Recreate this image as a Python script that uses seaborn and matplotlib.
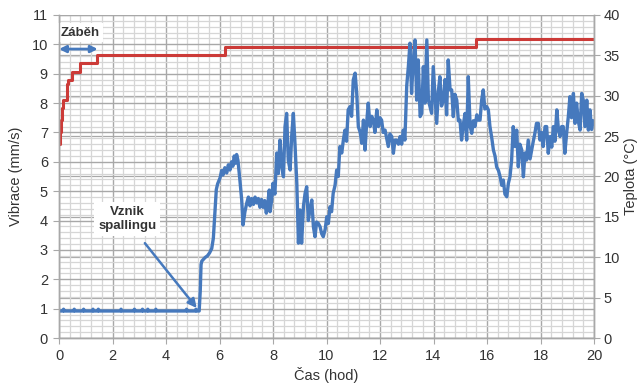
import numpy as np
import pandas as pd
import matplotlib
matplotlib.use("Agg")
import matplotlib.pyplot as plt
import matplotlib.transforms as mtransforms
from matplotlib.ticker import MultipleLocator
import seaborn as sns

# ---------------- data ----------------
vib_t = [0.00, 0.15, 0.17, 0.19, 0.55, 0.57, 0.59, 0.90, 0.92, 0.94, 1.25, 1.27, 1.29,
         1.45, 1.47, 1.49, 2.30, 2.32, 2.34, 2.80, 2.82, 2.84, 3.10, 3.12, 3.14, 3.30, 3.32,
         3.34, 3.60, 3.62, 3.64, 4.75, 4.77, 4.79, 5.10, 5.12, 5.14, 5.24,
         5.28, 5.31, 5.34, 5.40, 5.46, 5.55, 5.63, 5.71, 5.77, 5.83, 5.88, 5.93,
         6.02, 6.08, 6.13, 6.20, 6.27, 6.33, 6.39, 6.45, 6.50, 6.55, 6.60, 6.64, 6.69,
         6.76, 6.83, 6.88, 6.95, 7.02, 7.08, 7.14, 7.20, 7.27, 7.33, 7.39, 7.45, 7.51,
         7.57, 7.63, 7.69, 7.75, 7.81, 7.86, 7.89, 7.95, 8.00, 8.07, 8.14, 8.20, 8.26,
         8.33, 8.39, 8.45, 8.51, 8.57, 8.64, 8.70, 8.76, 8.82, 8.89, 8.95, 9.01, 9.07,
         9.14, 9.20, 9.26, 9.32, 9.38, 9.45, 9.51, 9.57, 9.63, 9.69, 9.76, 9.82, 9.88,
         9.95, 10.01, 10.07, 10.13, 10.19, 10.25, 10.32, 10.38, 10.44, 10.50,
         10.57, 10.63, 10.69, 10.75, 10.81, 10.88, 10.94, 11.00, 11.07, 11.13,
         11.19, 11.26, 11.32, 11.38, 11.44, 11.50, 11.56, 11.63, 11.69, 11.75,
         11.81, 11.88, 11.94, 12.00, 12.06, 12.12, 12.19, 12.25, 12.31, 12.37,
         12.44, 12.50, 12.56, 12.62, 12.69, 12.75, 12.81, 12.87, 12.93, 13.00,
         13.06, 13.12, 13.18, 13.24, 13.31, 13.37, 13.43, 13.50, 13.56, 13.62,
         13.68, 13.75, 13.81, 13.87, 13.93, 13.99, 14.06, 14.12, 14.18, 14.24,
         14.30, 14.37, 14.43, 14.49, 14.55, 14.62, 14.68, 14.74, 14.80, 14.87,
         14.93, 14.99, 15.05, 15.12, 15.18, 15.24, 15.30, 15.37, 15.43, 15.49,
         15.55, 15.62, 15.68, 15.74, 15.80, 15.86, 15.92, 15.99, 16.05, 16.11,
         16.18, 16.24, 16.30, 16.36, 16.43, 16.49, 16.55, 16.61, 16.67, 16.74,
         16.80, 16.86, 16.92, 16.98, 17.05, 17.11, 17.17, 17.23, 17.30, 17.36,
         17.42, 17.48, 17.54, 17.61, 17.67, 17.73, 17.79, 17.85, 17.92, 17.98,
         18.04, 18.10, 18.17, 18.23, 18.29, 18.36, 18.42, 18.48, 18.54, 18.61,
         18.67, 18.73, 18.79, 18.85, 18.91, 18.98, 19.04, 19.10, 19.16, 19.23,
         19.29, 19.35, 19.41, 19.48, 19.54, 19.60, 19.66, 19.73, 19.79, 19.85,
         19.91, 19.97, 20.00]
vib_v = [0.92, 0.92, 0.98, 0.92, 0.92, 0.98, 0.92, 0.92, 0.98, 0.92, 0.92, 0.98, 0.92,
         0.92, 0.98, 0.92, 0.92, 0.98, 0.92, 0.92, 0.98, 0.92, 0.92, 0.98, 0.92, 0.92, 0.98,
         0.92, 0.92, 0.98, 0.92, 0.92, 0.98, 0.92, 0.92, 0.98, 0.92, 0.92,
         1.60, 2.50, 2.62, 2.68, 2.74, 2.80, 2.90, 3.05, 3.40, 4.30, 5.05, 5.25,
         5.45, 5.70, 5.55, 5.80, 5.62, 5.90, 5.72, 6.00, 5.85, 6.20, 5.95, 6.25, 6.05,
         5.40, 4.70, 3.85, 4.30, 4.60, 4.80, 4.50, 4.75, 4.55, 4.80, 4.60, 4.75, 4.45,
         4.72, 4.45, 4.68, 4.25, 4.62, 5.04, 4.30, 4.70, 5.27, 4.90, 6.30, 5.60, 6.74,
         5.83, 5.49, 7.20, 7.65, 6.06, 5.72, 6.90, 7.65, 6.64, 5.27, 3.23, 4.36, 3.23,
         4.50, 4.93, 5.15, 4.00, 4.36, 4.70, 3.79, 3.45, 3.95, 3.91, 3.79, 3.55, 3.45,
         3.70, 4.13, 3.90, 4.47, 4.30, 4.93, 5.20, 5.72, 5.50, 6.52,
         6.30, 6.74, 7.08, 6.70, 7.77, 7.88, 7.55, 8.79, 9.02, 8.33,
         7.20, 7.00, 6.63, 7.42, 6.40, 7.30, 8.00, 7.20, 7.55, 7.42,
         7.00, 7.77, 7.20, 7.50, 7.42, 7.00, 7.08, 6.80, 6.52, 6.95,
         6.86, 6.29, 6.74, 6.74, 6.60, 6.86, 6.60, 7.08, 6.74, 8.60,
         9.24, 10.04, 8.33, 9.40, 10.15, 8.10, 9.47, 7.54, 7.65, 9.24,
         8.00, 10.15, 8.10, 7.88, 7.65, 9.24, 8.20, 7.31, 8.40, 8.90,
         7.90, 8.10, 8.80, 7.60, 9.47, 8.45, 8.45, 7.54, 8.30, 8.10,
         7.40, 7.42, 6.74, 7.30, 7.65, 6.74, 8.90, 7.20, 6.97, 7.40,
         7.20, 7.60, 7.42, 7.42, 8.10, 8.45, 7.80, 7.88, 7.77, 7.20,
         6.80, 6.40, 6.20, 5.83, 5.70, 5.49, 5.20, 5.38, 4.90, 4.81,
         5.27, 5.50, 6.06, 7.20, 6.52, 7.08, 5.83, 6.60, 6.40, 5.49,
         6.30, 6.06, 6.74, 6.10, 6.40, 6.70, 6.97, 7.31, 7.31, 6.74,
         7.00, 6.52, 7.20, 7.20, 6.29, 6.86, 6.50, 7.20, 6.70, 7.77,
         7.10, 6.86, 7.20, 7.20, 6.29, 7.00, 7.54, 8.22, 7.50, 8.33,
         7.31, 8.00, 7.40, 7.08, 8.33, 8.10, 7.20, 8.10, 7.08, 7.77,
         7.10, 7.40, 7.30]

temp_t = [0.00, 0.03, 0.06, 0.10, 0.16, 0.29, 0.35, 0.47, 0.79, 1.41, 6.20, 15.60, 20.00]
temp_v = [24.0, 25.5, 27.0, 28.5, 29.5, 31.5, 32.0, 33.0, 34.0, 35.0, 36.0, 37.0, 37.0]

x_ticks = list(range(0, 21, 2))
y_left_ticks = list(range(0, 12))
y_right_ticks = list(range(0, 41, 5))

x_label = "Čas (hod)"
y_left_label = "Vibrace (mm/s)"
y_right_label = "Teplota (°C)"
note_run = "Záběh"
note_spall = "Vznik\nspallingu"

# ---------------- style ----------------
sns.set_style("white")
plt.rcParams["font.family"] = ["Liberation Sans", "DejaVu Sans"]

BLUE = "#4679bd"
RED = "#cc3b38"
MINOR = "#d6d6d6"
MAJOR = "#a8a8a8"
TXT = "#333333"

fig = plt.figure(figsize=(6.42, 3.91), dpi=100)
ax = fig.add_axes([59 / 642, 53 / 391, 535 / 642, 323 / 391])
ax2 = ax.twinx()

ax.set_xlim(0, 20)
ax.set_ylim(0, 11)
ax2.set_ylim(0, 40)

ax.set_xticks(x_ticks)
ax.set_yticks(y_left_ticks)
ax2.set_yticks(y_right_ticks)
ax.xaxis.set_minor_locator(MultipleLocator(0.4))
ax.yaxis.set_minor_locator(MultipleLocator(0.2))

ax.set_axisbelow(True)
ax.grid(which="minor", color=MINOR, lw=0.9, zorder=0)
ax.grid(which="major", color=MAJOR, lw=1.0, zorder=0.2)
ax2.grid(False)

# right-axis major grid lines drawn inside the front axes via ax2's y scale
blend = mtransforms.blended_transform_factory(ax.transData, ax2.transData)
ax.hlines(y_right_ticks, 0, 20, colors=MAJOR, lw=0.9, transform=blend, zorder=0.3)

# temperature (right axis scale) drawn on ax using ax2's y transform
df_t = pd.DataFrame({"t": temp_t, "T": temp_v})
sns.lineplot(data=df_t, x="t", y="T", ax=ax, color=RED, lw=2.2,
             drawstyle="steps-post", transform=blend, zorder=2, estimator=None)

df_v = pd.DataFrame({"t": vib_t, "v": vib_v})
sns.lineplot(data=df_v, x="t", y="v", ax=ax, color=BLUE, lw=2.4,
             zorder=3, estimator=None, sort=False)

ax.set_xlim(0, 20)
ax.set_ylim(0, 11)
ax2.set_ylim(0, 40)

for s in ["top"]:
    ax.spines[s].set_visible(False)
    ax2.spines[s].set_visible(False)
for a in (ax, ax2):
    for s in ["left", "right", "bottom"]:
        a.spines[s].set_color(MAJOR)
        a.spines[s].set_linewidth(1.0)

ax.tick_params(which="major", direction="out", length=4, color=MAJOR,
               labelsize=10.5, labelcolor=TXT, left=True, bottom=True, pad=4)
ax.tick_params(which="minor", length=0)
ax2.tick_params(which="major", direction="out", length=4, color=MAJOR,
                labelsize=10.5, labelcolor=TXT, right=True, pad=3)

ax.set_xlabel(x_label, fontsize=10.5, color=TXT, labelpad=3)
ax.set_ylabel(y_left_label, fontsize=10.5, color=TXT, labelpad=6)
ax2.set_ylabel(y_right_label, fontsize=10.5, color=TXT, labelpad=3)

# annotations
ax.text(0.79, 10.40, note_run, ha="center", va="center", fontsize=9.5,
        fontweight="bold", color=TXT, zorder=5,
        bbox=dict(boxstyle="square,pad=0.25", fc="white", ec="none"))
ax.annotate("", xy=(0.0, 9.84), xytext=(1.45, 9.84),
            arrowprops=dict(arrowstyle="<|-|>", color=BLUE, lw=2.0,
                            mutation_scale=10, shrinkA=0, shrinkB=0), zorder=5)

ax.text(2.55, 4.05, note_spall, ha="center", va="center", fontsize=9.5,
        fontweight="bold", color=TXT, linespacing=1.3, zorder=5,
        bbox=dict(boxstyle="square,pad=0.3", fc="white", ec="none"))
ax.annotate("", xy=(5.15, 1.02), xytext=(3.21, 3.23),
            arrowprops=dict(arrowstyle="-|>", color=BLUE, lw=1.8,
                            mutation_scale=13, shrinkA=0, shrinkB=0), zorder=5)

fig.savefig("out.png", dpi=100)
